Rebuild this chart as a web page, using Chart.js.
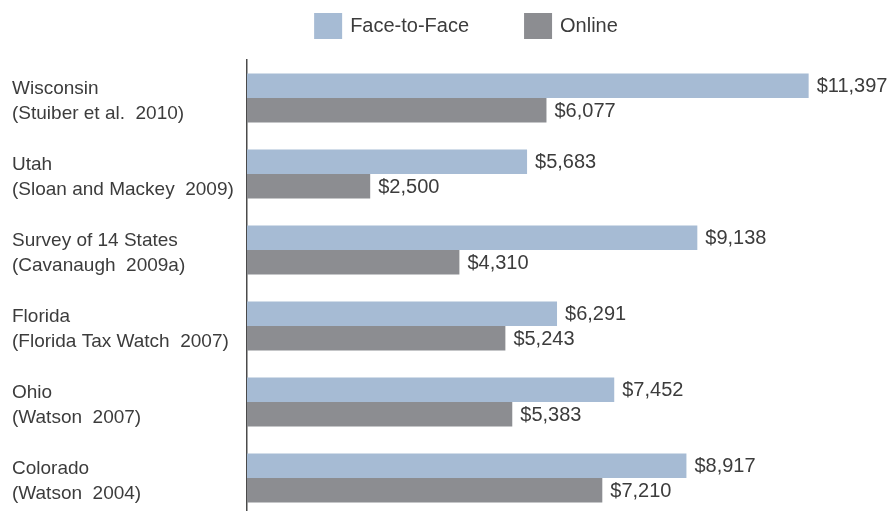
<!DOCTYPE html>
<html>
<head>
<meta charset="utf-8">
<script src="https://cdn.jsdelivr.net/npm/chart.js@4.4.1/dist/chart.umd.min.js"></script>
<style>
  html, body { margin: 0; padding: 0; background: #fff; overflow: hidden; }
  #wrap { width: 887px; height: 547px; }
</style>
</head>
<body>
<div id="wrap"><canvas id="chart-cost"></canvas></div>
<script>
// data
var states = [
    ['Wisconsin', '(Stuiber et al.  2010)'],
    ['Utah', '(Sloan and Mackey  2009)'],
    ['Survey of 14 States', '(Cavanaugh  2009a)'],
    ['Florida', '(Florida Tax Watch  2007)'],
    ['Ohio', '(Watson  2007)'],
    ['Colorado', '(Watson  2004)']
];
var faceToFace = [11397, 5683, 9138, 6291, 7452, 8917];
var online = [6077, 2500, 4310, 5243, 5383, 7210];
var seriesNames = ['Face-to-Face', 'Online'];
var seriesColors = ['#a6bbd4', '#8c8d91'];

var textColor = '#3c3c3c';
var fontFamily = '"Liberation Sans", Arial, sans-serif';

function money(v) {
    return '$' + v.toLocaleString('en-US');
}

// value labels at the end of each bar
var barLabels = {
    id: 'barLabels',
    afterDatasetsDraw(chart) {
        var ctx = chart.ctx;
        ctx.save();
        ctx.font = '20px ' + fontFamily;
        ctx.fillStyle = textColor;
        ctx.textAlign = 'left';
        ctx.textBaseline = 'middle';
        chart.data.datasets.forEach((ds, i) => {
            chart.getDatasetMeta(i).data.forEach((bar, j) => {
                ctx.fillText(money(ds.data[j]), bar.x + 8, bar.y + 1);
            });
        });
        ctx.restore();
    }
};

// legend drawn at the top, items spread apart like the original
var topLegend = {
    id: 'topLegend',
    afterDraw(chart) {
        var ctx = chart.ctx;
        var box = 28, gap = 8, spacing = 55;
        ctx.save();
        ctx.font = '20px ' + fontFamily;
        ctx.textBaseline = 'middle';
        var widths = chart.data.datasets.map(ds => box + gap + ctx.measureText(ds.label).width);
        var total = widths.reduce((a, b) => a + b, 0) + spacing * (widths.length - 1);
        var x = 466 - total / 2;
        var y = 13;
        chart.data.datasets.forEach((ds, i) => {
            ctx.fillStyle = ds.backgroundColor;
            ctx.fillRect(x, y, box, 26);
            ctx.fillStyle = textColor;
            ctx.fillText(ds.label, x + box + gap, y + 13);
            x += widths[i] + spacing;
        });
        ctx.restore();
    }
};

const costContext = document.getElementById('chart-cost').getContext('2d');
var costData = {
    labels: states,
    datasets: [
        {
            label: seriesNames[0],
            data: faceToFace,
            backgroundColor: seriesColors[0],
            barPercentage: 1.0,
            categoryPercentage: 0.645
        },
        {
            label: seriesNames[1],
            data: online,
            backgroundColor: seriesColors[1],
            barPercentage: 1.0,
            categoryPercentage: 0.645
        }
    ]
};

var costChart = new Chart(costContext, {
    type: 'bar',
    data: costData,
    plugins: [barLabels, topLegend],
    options: {
        indexAxis: 'y',
        responsive: true,
        maintainAspectRatio: false,
        animation: false,
        layout: {
            padding: { top: 60, left: 12, right: 24, bottom: 0 }
        },
        plugins: {
            legend: { display: false },
            tooltip: { enabled: false }
        },
        scales: {
            x: {
                min: 0,
                max: 12500,
                display: false
            },
            y: {
                grid: { display: false, drawTicks: false },
                border: { display: true, color: '#4a4a4a', width: 1.5 },
                afterFit: function (scale) { scale.width = 235; },
                ticks: {
                    crossAlign: 'far',
                    color: textColor,
                    padding: 6,
                    labelOffset: 3,
                    font: { family: fontFamily, size: 19, lineHeight: 1.32 }
                }
            }
        }
    }
});
</script>
</body>
</html>
